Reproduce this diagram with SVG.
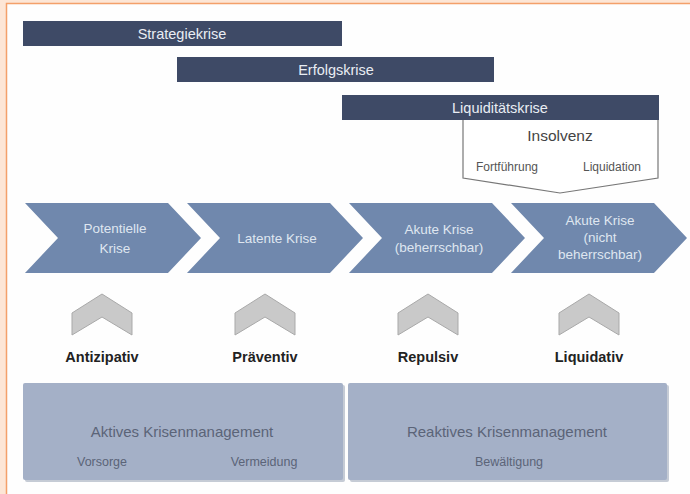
<svg xmlns="http://www.w3.org/2000/svg" width="690" height="494" viewBox="0 0 690 494">
<style>
text{font-family:"Liberation Sans","Open Sans",Arial,sans-serif;text-anchor:middle}
.bar{fill:#3e4a66}
.bt{fill:#e9edf3;font-size:14.5px}
.chev{fill:#7088ad}
.ct{fill:#dfe6f0;font-size:13.5px}
.up{fill:#c9c9c9;stroke:#a9a9a9;stroke-width:1}
.lbl{fill:#222;font-size:14.5px;font-weight:bold}
.box{fill:#a4b0c7}
.shadow{fill:#8c97ab;opacity:0.5}
.bx{fill:#5b6478;font-size:15px}
.bs{fill:#5b6478;font-size:12.5px}
.ins{fill:#fff;stroke:#777;stroke-width:1.2}
.it{fill:#444;font-size:15.5px}
.is{fill:#555;font-size:12px}
</style>
<rect x="0" y="0" width="690" height="494" fill="#fde6d6"/>
<rect x="6.5" y="3.5" width="700" height="500" fill="#fefefe" stroke="#f4a06a" stroke-width="1.5"/>

<g id="strategiekrise"><rect class="bar" x="23" y="21" width="319" height="25"/><text class="bt" x="182" y="39">Strategiekrise</text></g>
<g id="erfolgskrise"><rect class="bar" x="177" y="57" width="317" height="25"/><text class="bt" x="336" y="75">Erfolgskrise</text></g>
<g id="insolvenz"><path class="ins" d="M463 119 L463 178 L560 193 L658 178 L658 119 Z"/><text class="it" x="560" y="141">Insolvenz</text><text class="is" x="507" y="171">Fortführung</text><text class="is" x="612" y="171">Liquidation</text></g>
<g id="liquiditaetskrise"><rect class="bar" x="342" y="95" width="317" height="25"/><text class="bt" x="500" y="113">Liquiditätskrise</text></g>

<g id="potentielle"><path class="chev" d="M25 203 L168 203 L201 238 L168 273 L25 273 L58 238 Z"/><text class="ct" x="115" y="233">Potentielle</text><text class="ct" x="115" y="253">Krise</text></g>
<g id="latente"><path class="chev" d="M187 203 L330 203 L363 238 L330 273 L187 273 L220 238 Z"/><text class="ct" x="277" y="243">Latente Krise</text></g>
<g id="akut1"><path class="chev" d="M349 203 L492 203 L525 238 L492 273 L349 273 L382 238 Z"/><text class="ct" x="439" y="234">Akute Krise</text><text class="ct" x="439" y="252">(beherrschbar)</text></g>
<g id="akut2"><path class="chev" d="M511 203 L654 203 L687 238 L654 273 L511 273 L544 238 Z"/><text class="ct" x="600" y="225">Akute Krise</text><text class="ct" x="600" y="242">(nicht</text><text class="ct" x="600" y="259">beherrschbar)</text></g>

<g id="antizipativ"><path class="up" d="M72 313 L102 294 L132 313 L132 335 L102 317 L72 335 Z"/><text class="lbl" x="102" y="362">Antizipativ</text></g>
<g id="praeventiv"><path class="up" d="M235 313 L265 294 L295 313 L295 335 L265 317 L235 335 Z"/><text class="lbl" x="265" y="362">Präventiv</text></g>
<g id="repulsiv"><path class="up" d="M398 313 L428 294 L458 313 L458 335 L428 317 L398 335 Z"/><text class="lbl" x="428" y="362">Repulsiv</text></g>
<g id="liquidativ"><path class="up" d="M559 313 L589 294 L619 313 L619 335 L589 317 L559 335 Z"/><text class="lbl" x="589" y="362">Liquidativ</text></g>

<g id="aktiv"><rect class="shadow" x="25" y="385" width="320" height="97" rx="2"/><rect class="box" x="23" y="383" width="320" height="97" rx="2"/><text class="bx" x="182" y="437">Aktives Krisenmanagement</text><text class="bs" x="102" y="466">Vorsorge</text><text class="bs" x="264" y="466">Vermeidung</text></g>
<g id="reaktiv"><rect class="shadow" x="350" y="385" width="319" height="97" rx="2"/><rect class="box" x="348" y="383" width="319" height="97" rx="2"/><text class="bx" x="507" y="437">Reaktives Krisenmanagement</text><text class="bs" x="509" y="466">Bewältigung</text></g>
<g id="connectors"></g>
</svg>
